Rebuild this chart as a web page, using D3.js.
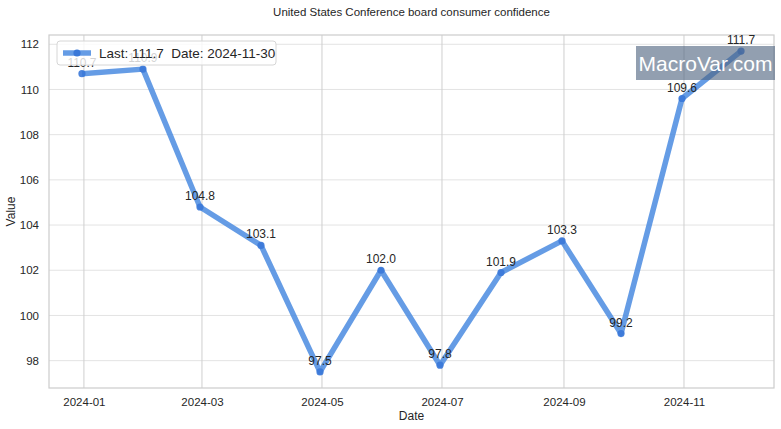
<!DOCTYPE html>
<html>
<head>
<meta charset="utf-8">
<script src="https://cdn.jsdelivr.net/npm/d3@7"></script>
<style>
  body { margin: 0; background: #fff; }
  svg { font-family: "Liberation Sans", Arial, sans-serif; }
</style>
</head>
<body>
<div id="chart"></div>
<script>
// month-end observations
const dates = ["2023-12-31", "2024-01-31", "2024-02-29", "2024-03-31", "2024-04-30", "2024-05-31",
               "2024-06-30", "2024-07-31", "2024-08-31", "2024-09-30", "2024-10-31", "2024-11-30"];
const values = [110.7, 110.9, 104.8, 103.1, 97.5, 102.0, 97.8, 101.9, 103.3, 99.2, 109.6, 111.7];
const xTicks = ["2024-01-01", "2024-03-01", "2024-05-01", "2024-07-01", "2024-09-01", "2024-11-01"];
const yTicks = [98, 100, 102, 104, 106, 108, 110, 112];

const width = 781, height = 429;
const margin = { top: 35, right: 7, bottom: 41, left: 49 };
const parse = d3.utcParse("%Y-%m-%d");
const data = dates.map((d, i) => ({ date: parse(d), value: values[i] }));

const svg = d3.select("#chart").append("svg")
  .attr("width", width).attr("height", height);

// matplotlib-style 5% padding
const t0 = d3.min(data, d => d.date), t1 = d3.max(data, d => d.date);
const pad = (t1 - t0) * 0.05;
const x = d3.scaleUtc()
  .domain([new Date(+t0 - pad), new Date(+t1 + pad)])
  .range([margin.left, width - margin.right]);
const vmin = d3.min(values), vmax = d3.max(values);
const vpad = (vmax - vmin) * 0.05;
const y = d3.scaleLinear()
  .domain([vmin - vpad, vmax + vpad])
  .range([height - margin.bottom, margin.top]);

const plotTop = margin.top, plotBottom = height - margin.bottom;

// grid
svg.append("g").selectAll("line").data(yTicks).join("line")
  .attr("x1", margin.left).attr("x2", width - margin.right)
  .attr("y1", d => y(d)).attr("y2", d => y(d))
  .attr("stroke", "#e3e3e3").attr("stroke-width", 1);
svg.append("g").selectAll("line").data(xTicks).join("line")
  .attr("x1", d => x(parse(d))).attr("x2", d => x(parse(d)))
  .attr("y1", plotTop).attr("y2", plotBottom)
  .attr("stroke", "#cfcfcf").attr("stroke-width", 1);

// frame
svg.append("rect")
  .attr("x", margin.left).attr("y", plotTop)
  .attr("width", width - margin.left - margin.right)
  .attr("height", plotBottom - plotTop)
  .attr("fill", "none").attr("stroke", "#cccccc").attr("stroke-width", 1.2);

// axes
const xAxis = d3.axisBottom(x)
  .tickValues(xTicks.map(parse))
  .tickFormat(d3.utcFormat("%Y-%m"))
  .tickSize(0).tickPadding(10);
svg.append("g").attr("transform", `translate(0,${plotBottom})`).call(xAxis)
  .call(g => g.select(".domain").remove())
  .selectAll("text").attr("font-size", 11.5).attr("fill", "#262626")
  .attr("font-family", "Liberation Sans, Arial, sans-serif");

const yAxis = d3.axisLeft(y).tickValues(yTicks).tickSize(0).tickPadding(10);
svg.append("g").attr("transform", `translate(${margin.left},0)`).call(yAxis)
  .call(g => g.select(".domain").remove())
  .selectAll("text").attr("font-size", 11.5).attr("fill", "#262626")
  .attr("font-family", "Liberation Sans, Arial, sans-serif");

// titles
svg.append("text").attr("x", (margin.left + width - margin.right) / 2).attr("y", 16)
  .attr("text-anchor", "middle").attr("font-size", 11.5).attr("fill", "#262626")
  .text("United States Conference board consumer confidence");
svg.append("text").attr("x", (margin.left + width - margin.right) / 2).attr("y", 420)
  .attr("text-anchor", "middle").attr("font-size", 12).attr("fill", "#262626")
  .text("Date");
svg.append("text").attr("transform", `translate(15,${(plotTop + plotBottom) / 2}) rotate(-90)`)
  .attr("text-anchor", "middle").attr("font-size", 12).attr("fill", "#262626")
  .text("Value");

// series
const lineColor = "#4a8be0";
const line = d3.line().x(d => x(d.date)).y(d => y(d.value));
svg.append("path").datum(data)
  .attr("d", line).attr("fill", "none")
  .attr("stroke", lineColor).attr("stroke-opacity", 0.85)
  .attr("stroke-width", 5.5).attr("stroke-linejoin", "round").attr("stroke-linecap", "butt");
svg.append("g").selectAll("circle").data(data).join("circle")
  .attr("cx", d => x(d.date)).attr("cy", d => y(d.value)).attr("r", 3.6)
  .attr("fill", "#3a78d8").attr("fill-opacity", 0.9);

// value labels
svg.append("g").selectAll("text").data(data).join("text")
  .attr("x", d => x(d.date)).attr("y", d => y(d.value) - 7)
  .attr("text-anchor", "middle").attr("font-size", 12).attr("fill", "#262626")
  .text(d => d.value.toFixed(1));

// legend
const last = data[data.length - 1];
const lg = svg.append("g").attr("transform", "translate(57,41)");
lg.append("rect").attr("width", 219).attr("height", 24).attr("rx", 3)
  .attr("fill", "#ffffff").attr("fill-opacity", 0.8)
  .attr("stroke", "#d6d6d6").attr("stroke-width", 1);
lg.append("line").attr("x1", 6).attr("x2", 34).attr("y1", 12).attr("y2", 12)
  .attr("stroke", lineColor).attr("stroke-opacity", 0.85).attr("stroke-width", 5.5);
lg.append("circle").attr("cx", 20).attr("cy", 12).attr("r", 3.6).attr("fill", "#3a78d8");
lg.append("text").attr("x", 42).attr("y", 16.5).attr("font-size", 13.5).attr("fill", "#262626")
  .attr("xml:space", "preserve")
  .text(`Last: ${last.value.toFixed(1)}  Date: ${d3.utcFormat("%Y-%m-%d")(last.date)}`);

// watermark
const wm = svg.append("g").attr("transform", "translate(636,46)");
wm.append("rect").attr("width", 139).attr("height", 34)
  .attr("fill", "#4f6480").attr("fill-opacity", 0.62);
wm.append("text").attr("x", 69.5).attr("y", 25).attr("text-anchor", "middle")
  .attr("font-size", 21).attr("fill", "#ffffff")
  .text("MacroVar.com");
</script>
</body>
</html>
